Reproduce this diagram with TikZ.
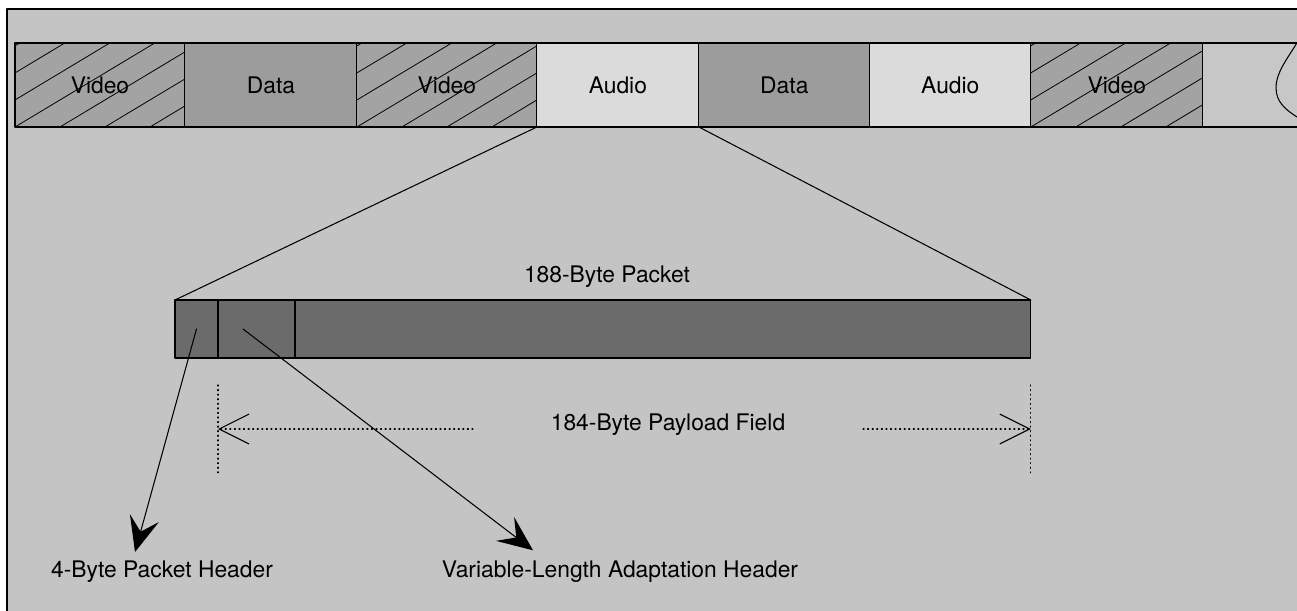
\documentclass[tikz,border=0pt]{standalone}
\usepackage{fontspec}
\setmainfont{TeX Gyre Heros}
\usetikzlibrary{arrows.meta,calc,positioning}
\definecolor{paperGrey}{gray}{0.77}
\definecolor{videoGrey}{gray}{0.64}
\definecolor{dataGrey}{gray}{0.61}
\definecolor{audioGrey}{gray}{0.86}
\definecolor{tailGrey}{gray}{0.78}
\definecolor{packetGrey}{gray}{0.42}

\tikzset{
  cell/.style={draw=black,line width=0.6pt,minimum height=1.68cm,
    inner sep=0pt,outer sep=0pt,font=\fontsize{13}{15}\selectfont},
  videocell/.style={cell,fill=videoGrey,path picture={
      \foreach \k in {-3,...,4}
        \draw[line width=0.45pt]
          ($(path picture bounding box.south west)+(\k*0.9cm,0)$) -- ++(31:6cm);}},
  datacell/.style={cell,fill=dataGrey},
  audiocell/.style={cell,fill=audioGrey},
  pktpart/.style={draw=black,line width=0.6pt,fill=packetGrey,minimum height=1.16cm,
    inner sep=0pt,outer sep=0pt},
  lbl/.style={inner sep=2pt,font=\fontsize{13}{15}\selectfont},
  dimline/.style={line width=0.6pt,dotted},
  dimtip/.style={-{Straight Barb[length=17pt,width=17pt]}},
  pointer/.style={line width=0.6pt,-{Stealth[length=20pt,width=17pt,inset=8pt]}},
}

\begin{document}
\begin{tikzpicture}[x=0.02cm,y=-0.02cm,line cap=round,line join=round]
 \useasboundingbox (0,0) rectangle (1297,611);
 \fill[white] (0,0) rectangle (1297,611);
 \fill[paperGrey] (7,9) rectangle (1297,611);
 \draw[line width=1pt] (7,611) -- (7,9) -- (1297,9);

 % transport stream
 \node[videocell,minimum width=3.40cm,anchor=west] (v1) at (15,85) {Video};
 \node[datacell,minimum width=3.44cm,right=0pt of v1] (d1) {Data};
 \node[videocell,minimum width=3.60cm,right=0pt of d1] (v2) {Video};
 \node[audiocell,minimum width=3.24cm,right=0pt of v2] (a1) {Audio};
 \node[datacell,minimum width=3.42cm,right=0pt of a1] (d2) {Data};
 \node[audiocell,minimum width=3.22cm,right=0pt of d2] (a2) {Audio};
 \node[videocell,minimum width=3.44cm,right=0pt of a2] (v3) {Video};
 \node[fill=tailGrey,minimum width=1.88cm,minimum height=1.68cm,inner sep=0pt,
   outer sep=0pt,right=0pt of v3] (tail) {};
 \draw[line width=0.6pt] (v3.north east) -- (tail.north east);
 \draw[line width=0.6pt] (v3.south east) -- (tail.south east);
 \draw[line width=0.6pt] (tail.north east) .. controls (1288,58) and (1276,72) ..
   (1276,88) .. controls (1276,102) and (1286,110) .. (1297,117);

 % the packet
 \node[pktpart,minimum width=0.86cm,anchor=west] (hdr) at (175,329) {};
 \node[pktpart,minimum width=1.54cm,right=0pt of hdr] (adapt) {};
 \node[pktpart,minimum width=14.72cm,right=0pt of adapt] (payload) {};
 \node[lbl] (pktlbl) at (607,277) {188-Byte Packet};
 \draw[line width=0.6pt] (a1.south west) -- (hdr.north west);
 \draw[line width=0.6pt] (a1.south east) -- (payload.north east);

 % payload field
 \draw[dimline] (adapt.south west |- 0,385) -- (adapt.south west |- 0,474);
 \draw[dimline] (payload.south east |- 0,385) -- (payload.south east |- 0,474);
 \node[lbl,inner xsep=1.55cm] (fieldlbl) at (668,425) {184-Byte Payload Field};
 \coordinate (dimL) at (adapt.south west |- 0,429);
 \coordinate (dimR) at (payload.south east |- 0,429);
 \draw[dimline,dimtip] (fieldlbl.west |- dimL) -- (dimL);
 \draw[dimline,dimtip] (fieldlbl.east |- dimR) -- (dimR);

 % headers
 \node[lbl] (hdrlbl) at (162,572) {4-Byte Packet Header};
 \node[lbl] (adaptlbl) at (620,572) {Variable-Length Adaptation Header};
 \draw[pointer] (hdr.center) -- ([xshift=-0.54cm,yshift=3pt]hdrlbl.north);
 \draw[pointer] ([xshift=-0.27cm]adapt.center) -- ([xshift=-1.74cm,yshift=4pt]adaptlbl.north);
\end{tikzpicture}
\end{document}
